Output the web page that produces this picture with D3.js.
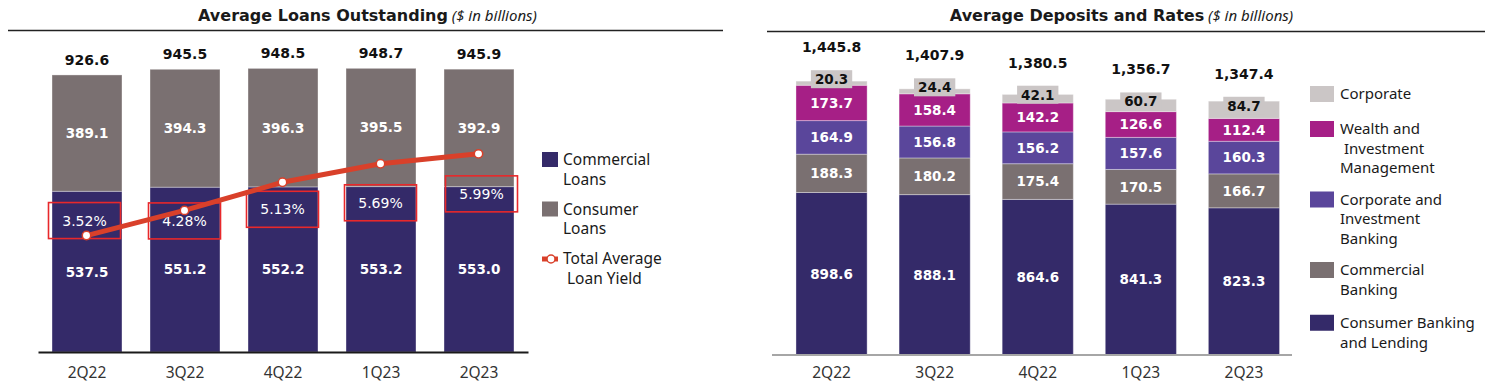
<!DOCTYPE html>
<html><head><meta charset="utf-8">
<script src="https://cdn.jsdelivr.net/npm/d3@7"></script>
<style>body{margin:0;background:#fff}svg{display:block}</style>
</head><body>
<script>
// ---------- data ----------
const categories = ["2Q22","3Q22","4Q22","1Q23","2Q23"];
// Average Loans Outstanding
const commercialLoans = [537.5, 551.2, 552.2, 553.2, 553.0];
const consumerLoans   = [389.1, 394.3, 396.3, 395.5, 392.9];
const loanTotals      = [926.6, 945.5, 948.5, 948.7, 945.9];
const loanYield       = [3.52, 4.28, 5.13, 5.69, 5.99];
// Average Deposits
const consumerBanking   = [898.6, 888.1, 864.6, 841.3, 823.3];
const commercialBanking = [188.3, 180.2, 175.4, 170.5, 166.7];
const corpInvBanking    = [164.9, 156.8, 156.2, 157.6, 160.3];
const wealthInvMgmt     = [173.7, 158.4, 142.2, 126.6, 112.4];
const corporate         = [20.3, 24.4, 42.1, 60.7, 84.7];
const depositTotals     = [1445.8, 1407.9, 1380.5, 1356.7, 1347.4];

const loanLegend = [["Commercial","Loans"],["Consumer","Loans"],["Total Average"," Loan Yield"]];
const depLegend = [["Corporate"],["Wealth and"," Investment","Management"],["Corporate and","Investment","Banking"],["Commercial","Banking"],["Consumer Banking","and Lending"]];

// ---------- style ----------
const C = {navy:"#342a69", gray:"#7a7071", light:"#cbc6c6", wim:"#a61f86", cib:"#5a469b", red:"#d9402a", box:"#e8282b"};
const numFont = "'DejaVu Sans', sans-serif";
const txtFont = "'Noto Sans', sans-serif";

const svg = d3.select("body").append("svg").attr("width",1495).attr("height",385);

function title(cx, main, sub){
  const t = svg.append("text").attr("x",cx).attr("y",21).attr("text-anchor","middle").attr("fill","#1a1a1a");
  t.append("tspan").text(main).attr("font-family",numFont).attr("font-weight","bold").attr("font-size",16);
  t.append("tspan").text(" "+sub).attr("font-family",txtFont).attr("font-style","italic").attr("font-size",15);
}
title(367.5, "Average Loans Outstanding", "($ in billions)");
title(1121.5, "Average Deposits and Rates", "($ in billions)");
svg.append("line").attr("x1",8).attr("x2",723).attr("y1",30.5).attr("y2",30.5).attr("stroke","#222").attr("stroke-width",1.5);
svg.append("line").attr("x1",767).attr("x2",1485).attr("y1",31.5).attr("y2",31.5).attr("stroke","#222").attr("stroke-width",1.5);

// ---------- left chart ----------
const xL = d3.scaleBand().domain(categories).range([38,528]).paddingInner(0.286).paddingOuter(0.143);
const yL = d3.scaleLinear().domain([0,1000]).range([352,53]);
const yY = d3.scaleLinear().domain([0,10]).range([352,21.2]);

const loanRows = categories.map((c,i)=>({cat:c, commercial:commercialLoans[i], consumer:consumerLoans[i]}));
const loanStack = d3.stack().keys(["commercial","consumer"])(loanRows);
const loanColor = {commercial:C.navy, consumer:C.gray};
const loanVals = {commercial:commercialLoans, consumer:consumerLoans};
const gL = svg.append("g");
loanStack.forEach(layer=>{
  gL.selectAll(null).data(layer).join("rect")
    .attr("x",d=>xL(d.data.cat)).attr("width",xL.bandwidth())
    .attr("y",d=>yL(d[1])).attr("height",d=>yL(d[0])-yL(d[1]))
    .attr("fill",loanColor[layer.key]).attr("stroke","rgba(255,255,255,0.35)").attr("stroke-width",1);
  gL.selectAll(null).data(layer).join("text")
    .attr("x",d=>xL(d.data.cat)+xL.bandwidth()/2)
    .attr("y",d=>(yL(d[0])+yL(d[1]))/2).attr("dy","0.36em")
    .attr("text-anchor","middle").attr("fill","#fff").attr("font-family",numFont)
    .attr("font-weight","bold").attr("font-size",13.5).text((d,i)=>loanVals[layer.key][i].toFixed(1));
});
gL.selectAll(null).data(categories).join("text")
  .attr("x",c=>xL(c)+xL.bandwidth()/2).attr("y",(c,i)=>yL(commercialLoans[i]+consumerLoans[i])-10)
  .attr("text-anchor","middle").attr("fill","#111").attr("font-family",numFont)
  .attr("font-weight","bold").attr("font-size",14).text((c,i)=>loanTotals[i].toFixed(1));

// yield labels + boxes
const lblDy = [-15, 10.5, 27, 39, 40];
const lblDx = [-2, 0, 0, 0, 3];
const px = (c)=>xL(c)+xL.bandwidth()/2 - 0.5;
categories.forEach((c,i)=>{
  const cx = px(c)+lblDx[i], cy = yY(loanYield[i])+lblDy[i];
  gL.append("rect").attr("x",cx-36).attr("y",cy-18).attr("width",72).attr("height",36)
    .attr("fill","none").attr("stroke",C.box).attr("stroke-width",1.6);
  gL.append("text").attr("x",cx).attr("y",cy).attr("dy","0.36em").attr("text-anchor","middle")
    .attr("fill","#fff").attr("font-family",numFont).attr("font-size",14).text(loanYield[i].toFixed(2)+"%");
});
const line = d3.line().x((d,i)=>px(categories[i])).y(d=>yY(d));
gL.append("path").attr("d",line(loanYield)).attr("fill","none").attr("stroke",C.red).attr("stroke-width",5);
gL.selectAll(null).data(loanYield).join("circle")
  .attr("cx",(d,i)=>px(categories[i])).attr("cy",d=>yY(d)).attr("r",4.2)
  .attr("fill","#fff").attr("stroke",C.red).attr("stroke-width",1.5);

const axL = svg.append("g").attr("transform","translate(0,352)").call(d3.axisBottom(xL).tickSize(0).tickPadding(15).tickSizeOuter(0));
axL.select(".domain").attr("stroke","#1a1a1a").attr("stroke-width",2);
axL.selectAll("text").attr("font-family",txtFont).attr("font-size",15.5).attr("fill","#333");

// left legend
let ly = 160;
loanLegend.forEach((lines,k)=>{
  if(k<2){
    svg.append("rect").attr("x",542).attr("y",ly-8).attr("width",16).attr("height",15).attr("fill",k===0?C.navy:C.gray);
  } else {
    svg.append("line").attr("x1",542).attr("x2",558).attr("y1",ly).attr("y2",ly).attr("stroke",C.red).attr("stroke-width",5);
    svg.append("circle").attr("cx",551).attr("cy",ly).attr("r",4).attr("fill","#fff").attr("stroke",C.red).attr("stroke-width",1.5);
  }
  lines.forEach((s,j)=>{
    svg.append("text").attr("x",563+(s.startsWith(" ")?4:0)).attr("y",ly+j*19.5).attr("dy","0.35em")
      .attr("font-family",txtFont).attr("font-size",15.5).attr("fill","#1a1a1a").text(s.trim());
  });
  ly += 49.5;
});

// ---------- right chart ----------
const xR = d3.scaleBand().domain(categories).range([780,1295.5]).paddingInner(0.31).paddingOuter(0.155);
const yR = d3.scaleLinear().domain([100,1500]).range([355,70.1]);
const depKeys = ["consumer","commercial","cib","wim","corporate"];
const depSeries = {consumer:consumerBanking, commercial:commercialBanking, cib:corpInvBanking, wim:wealthInvMgmt, corporate:corporate};
const depColor = {consumer:C.navy, commercial:C.gray, cib:C.cib, wim:C.wim, corporate:C.light};
const depRows = categories.map((c,i)=>{const o={cat:c}; depKeys.forEach(k=>o[k]=depSeries[k][i]); return o;});
const depStack = d3.stack().keys(depKeys)(depRows);
const gR = svg.append("g");
depStack.forEach(layer=>{
  gR.selectAll(null).data(layer).join("rect")
    .attr("x",d=>xR(d.data.cat)).attr("width",xR.bandwidth())
    .attr("y",d=>yR(d[1])).attr("height",d=>yR(Math.max(d[0],100))-yR(d[1]))
    .attr("fill",depColor[layer.key]).attr("stroke","rgba(255,255,255,0.35)").attr("stroke-width",1);
});
const corpCenters = [];
depStack.forEach(layer=>{
  layer.forEach((d,i)=>{
    const cx = xR(d.data.cat)+xR.bandwidth()/2;
    let cy = (yR(Math.max(d[0],100))+yR(d[1]))/2;
    const val = depSeries[layer.key][i].toFixed(1);
    if(layer.key==="corporate"){
      cy -= 4; corpCenters[i]=cy;
      const t = gR.append("text").attr("x",cx).attr("y",cy).attr("dy","0.36em").attr("text-anchor","middle")
        .attr("fill","#111").attr("font-family",numFont).attr("font-weight","bold").attr("font-size",13.5).text(val);
      const w = t.node().getComputedTextLength();
      gR.insert("rect","text").attr("x",cx-w/2-4).attr("y",cy-9).attr("width",w+8).attr("height",18).attr("fill",C.light);
    } else {
      gR.append("text").attr("x",cx).attr("y",cy).attr("dy","0.36em").attr("text-anchor","middle")
        .attr("fill","#fff").attr("font-family",numFont).attr("font-weight","bold").attr("font-size",13.5).text(val);
    }
  });
});
gR.selectAll(null).data(categories).join("text")
  .attr("x",c=>xR(c)+xR.bandwidth()/2).attr("y",(c,i)=>corpCenters[i]-27)
  .attr("text-anchor","middle").attr("fill","#111").attr("font-family",numFont)
  .attr("font-weight","bold").attr("font-size",14).text((c,i)=>d3.format(",.1f")(depositTotals[i]));

const axR = svg.append("g").attr("transform","translate(0,355)").call(d3.axisBottom(xR).tickSize(0).tickPadding(12).tickSizeOuter(0));
axR.select(".domain").attr("stroke","#a6a6a6").attr("stroke-width",2).attr("d","M772,0H1292");
axR.selectAll("text").attr("font-family",txtFont).attr("font-size",15.5).attr("fill","#333");

// right legend
const legColors = [C.light, C.wim, C.cib, C.gray, C.navy];
let ry = 94;
depLegend.forEach((lines,k)=>{
  svg.append("rect").attr("x",1310).attr("y",ry-8).attr("width",24).attr("height",16).attr("fill",legColors[k]);
  lines.forEach((s,j)=>{
    svg.append("text").attr("x",1340+(s.startsWith(" ")?4:0)).attr("y",ry+j*19.5).attr("dy","0.35em")
      .attr("font-family",txtFont).attr("font-size",15).attr("fill","#1a1a1a").text(s.trim());
  });
  ry += 35 + (lines.length-1)*17.75;
});
</script>
</body></html>
